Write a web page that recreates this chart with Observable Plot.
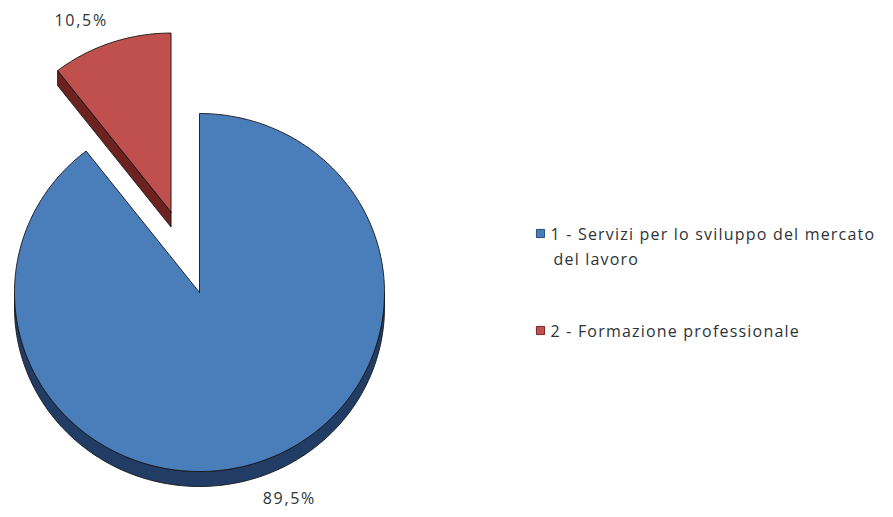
<!DOCTYPE html>
<html>
<head>
<meta charset="utf-8">
<script src="https://cdn.jsdelivr.net/npm/d3@7"></script>
<script src="https://cdn.jsdelivr.net/npm/@observablehq/plot@0.6"></script>
<style>
  html, body { margin: 0; padding: 0; background: #ffffff; }
  #chart { width: 893px; height: 517px; }
</style>
</head>
<body>
<div id="chart"></div>
<script>
// ---- data ----
const categories = ["1 - Servizi per lo sviluppo del mercato del lavoro", "2 - Formazione professionale"];
const legendLines = [["1 - Servizi per lo sviluppo del mercato", "del lavoro"], ["2 - Formazione professionale"]];
const values = [89.5, 10.5];
const valueLabels = ["89,5%", "10,5%"];
const explodeFrac = [0, 0.475];
const faceColors = ["#4a7ebb", "#c0504d"];
const sideColors = ["#213d66", "#6e2220"];
const legendStroke = ["#2a4a78", "#7a2624"];

// ---- layout ----
const W = 893, H = 517;
const cx = 199, cy = 292, rx = 185, ry = 179, depth = 15;
const textColor = "#2e3336";

const total = d3.sum(values);
let acc = 0;
const slices = values.map((v, i) => {
  const a0 = acc / total * 2 * Math.PI;
  acc += v;
  const a1 = acc / total * 2 * Math.PI;
  const mid = (a0 + a1) / 2;
  const e = explodeFrac[i];
  const c = {x: cx + e * rx * Math.sin(mid), y: cy - e * ry * Math.cos(mid)};
  return {i, v, a0, a1, mid, c};
});

const P = (c, a, k = 1, dy = 0) => ({x: c.x + k * rx * Math.sin(a), y: c.y - k * ry * Math.cos(a) + dy});

function arcPts(c, a0, a1, dy = 0) {
  const n = Math.max(2, Math.ceil((a1 - a0) / (Math.PI / 180)));
  return d3.range(n + 1).map(j => P(c, a0 + (a1 - a0) * j / n, 1, dy));
}

const polys = [];
for (const s of slices) {
  // outer rim side face (visible bottom half)
  const lo = Math.max(s.a0, Math.PI / 2), hi = Math.min(s.a1, 3 * Math.PI / 2);
  if (hi > lo) {
    const top = arcPts(s.c, lo, hi);
    const bot = arcPts(s.c, lo, hi, depth).reverse();
    const pts = [...top, ...bot];
    pts.push(pts[0]);
    polys.push({pts, fill: sideColors[s.i]});
  }
  // radial side face at the start edge when it faces down-left
  if (s.a0 > 3 * Math.PI / 2 && s.a0 < 2 * Math.PI) {
    const r = P(s.c, s.a0);
    const pts = [{x: s.c.x, y: s.c.y}, r, {x: r.x, y: r.y + depth}, {x: s.c.x, y: s.c.y + depth}, {x: s.c.x, y: s.c.y}];
    polys.push({pts, fill: sideColors[s.i]});
  }
  // top face
  const pts = [{x: s.c.x, y: s.c.y}, ...arcPts(s.c, s.a0, s.a1), {x: s.c.x, y: s.c.y}];
  polys.push({pts, fill: faceColors[s.i]});
}

const labelRows = slices.map(s => {
  const cosm = Math.cos(s.mid);
  return {
    text: valueLabels[s.i],
    x: s.c.x + 1.5 * rx * Math.sin(s.mid),
    y: s.c.y - 1.13 * ry * cosm + (cosm < 0 ? depth : 0)
  };
});

const legX = 540, legY = 233, legGap = 97, legLine = 25;
const legendSquares = categories.map((c, i) => ({x: legX, y: legY + i * legGap, fill: faceColors[i], stroke: legendStroke[i]}));
const legendText = legendLines.flatMap((lines, i) => lines.map((t, j) => ({
  text: t, x: legX + 10 + (j > 0 ? 3 : 0), y: legY + 1 + i * legGap + j * legLine
})));

const marks = [];
for (const p of polys) {
  marks.push(Plot.line(p.pts, {x: "x", y: "y", fill: p.fill, stroke: "#151515", strokeWidth: 0.9, curve: "linear"}));
}
marks.push(Plot.text(labelRows, {x: "x", y: "y", text: "text", fill: textColor, fontSize: 16, textAnchor: "middle"}));
marks.push(Plot.dot(legendSquares, {x: "x", y: "y", symbol: "square", r: 4.6, fill: "fill", stroke: "stroke", strokeWidth: 1}));
marks.push(Plot.text(legendText, {x: "x", y: "y", text: "text", fill: textColor, fontSize: 16, textAnchor: "start"}));

const chart = Plot.plot({
  width: W,
  height: H,
  margin: 0,
  x: {domain: [0, W], range: [0, W], axis: null},
  y: {domain: [0, H], range: [0, H], axis: null},
  color: {type: "identity"},
  style: {fontFamily: "'Open Sans', sans-serif", background: "#ffffff", overflow: "visible"},
  marks
});
const textGroups = chart.querySelectorAll("g[aria-label='text']");
if (textGroups[0]) textGroups[0].setAttribute("letter-spacing", "1.7px");
if (textGroups[1]) textGroups[1].setAttribute("letter-spacing", "1.2px");
document.getElementById("chart").appendChild(chart);
</script>
</body>
</html>
